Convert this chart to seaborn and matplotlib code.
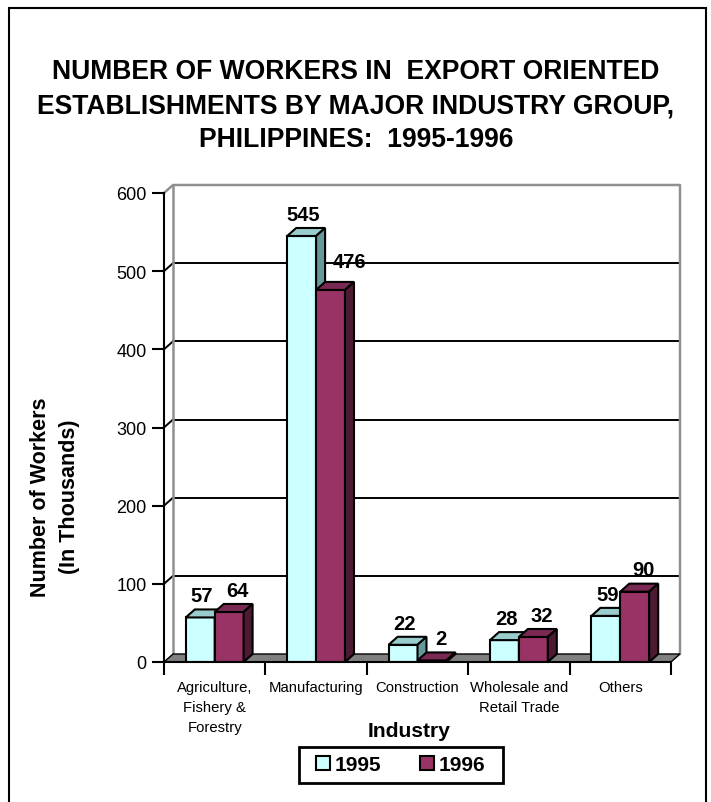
import matplotlib.pyplot as plt
import numpy as np
import pandas as pd
import seaborn as sns
from matplotlib.patches import Patch, Polygon, Rectangle
from matplotlib.ticker import FixedLocator, MultipleLocator

# Datos del grafico
industries = [
    "Agriculture,\nFishery &\nForestry",
    "Manufacturing",
    "Construction",
    "Wholesale and\nRetail Trade",
    "Others",
]
years = ["1995", "1996"]
workers_1995 = [57, 545, 22, 28, 59]
workers_1996 = [64, 476, 2, 32, 90]

# Colores tipo Excel (cara frontal, tapa y lado)
colores = {"1995": "#CCFFFF", "1996": "#993366"}
colores_tapa = {"1995": "#99CCCC", "1996": "#7A2952"}
colores_lado = {"1995": "#669999", "1996": "#4D1A33"}

df = pd.DataFrame(
    {
        "Industry": industries * 2,
        "Year": ["1995"] * len(industries) + ["1996"] * len(industries),
        "Workers": workers_1995 + workers_1996,
    }
)

sns.set_style("white")
plt.rcParams["font.family"] = ["Liberation Sans", "DejaVu Sans"]
for clave in ["text.color", "axes.labelcolor", "xtick.color", "ytick.color"]:
    plt.rcParams[clave] = "black"

W, H = 711, 803
fig = plt.figure(figsize=(W / 100, H / 100), dpi=100)
ax = fig.add_axes([164 / W, 1 - 663 / H, 507 / W, 469 / H])

sns.barplot(
    data=df,
    x="Industry",
    y="Workers",
    hue="Year",
    palette=colores,
    saturation=1,
    width=0.57,
    edgecolor="black",
    linewidth=1.5,
    legend=False,
    ax=ax,
)
ax.set_xlim(-0.5, 4.5)
ax.set_ylim(0, 600)

# Profundidad 3D en unidades de datos (9 px a la derecha, 8 px hacia arriba)
p0 = ax.transData.transform((0, 0))
p1 = ax.transData.transform((1, 100))
dx = 9 / (p1[0] - p0[0])
dy = 8 / ((p1[1] - p0[1]) / 100)

# Pared del fondo con lineas de grilla
xw0, xw1 = -0.5 + dx, 4.5 + dx
for y in range(100, 600, 100):
    ax.plot([xw0, xw1], [y + dy, y + dy], color="black", lw=1.4, zorder=1, clip_on=False)
    ax.plot([-0.5, xw0], [y, y + dy], color="black", lw=1.4, zorder=1, clip_on=False)
ax.plot(
    [-0.5, xw0, xw1, xw1],
    [600, 600 + dy, 600 + dy, dy],
    color="#909090",
    lw=1.8,
    zorder=1,
    clip_on=False,
)
ax.plot([xw0, xw0], [dy, 600 + dy], color="#909090", lw=1.8, zorder=1, clip_on=False)

# Piso
piso = Polygon(
    [(-0.5, 0), (4.5, 0), (4.5 + dx, dy), (-0.5 + dx, dy)],
    facecolor="#808080",
    edgecolor="black",
    lw=1,
    zorder=2,
    clip_on=False,
)
ax.add_patch(piso)

# Caras 3D de las barras y etiquetas
for i, contenedor in enumerate(ax.containers):
    year = years[i]
    for j, barra in enumerate(contenedor):
        barra.set_zorder(3 + i)
        x0 = barra.get_x()
        w = barra.get_width()
        h = barra.get_height()
        tapa = Polygon(
            [(x0, h), (x0 + w, h), (x0 + w + dx, h + dy), (x0 + dx, h + dy)],
            facecolor=colores_tapa[year],
            edgecolor="black",
            lw=1.5,
            zorder=3 + i,
            clip_on=False,
        )
        lado = Polygon(
            [(x0 + w, 0), (x0 + w + dx, dy), (x0 + w + dx, h + dy), (x0 + w, h)],
            facecolor=colores_lado[year],
            edgecolor="black",
            lw=1.5,
            zorder=3 + i,
            clip_on=False,
        )
        ax.add_patch(tapa)
        ax.add_patch(lado)

        label_x = x0 + w / 2 + dx / 2
        ha = "center"
        desplazamiento = (-2 + 5 * i, 3)
        if i == 1:
            vecino = ax.containers[0][j]
            if vecino.get_height() > h + dy + 40:
                # la barra vecina tapa la etiqueta: correrla a la derecha
                label_x = x0 + dx + 0.08
                ha = "left"
                desplazamiento = (0, 8)
        ax.annotate(
            f"{h:.0f}",
            (label_x, h + dy),
            xytext=desplazamiento,
            textcoords="offset points",
            ha=ha,
            va="bottom",
            fontsize=14.5,
            fontweight="bold",
            zorder=8,
            annotation_clip=False,
        )

# Ejes
sns.despine(ax=ax)
for lado_eje in ["left", "bottom"]:
    ax.spines[lado_eje].set_color("black")
    ax.spines[lado_eje].set_linewidth(1.5)
    ax.spines[lado_eje].set_zorder(6)

ax.yaxis.set_major_locator(MultipleLocator(100))
ax.tick_params(
    axis="y", direction="out", length=9, width=1.5, color="black", labelsize=13, pad=3.6, left=True
)
ax.xaxis.set_minor_locator(FixedLocator(np.arange(-0.5, 5, 1)))
ax.tick_params(axis="x", which="major", length=0, labelsize=10.7, pad=13)
ax.tick_params(
    axis="x", which="minor", direction="out", length=9, width=1.5, color="black", bottom=True
)
for lbl in ax.get_xticklabels():
    lbl.set_multialignment("center")
    lbl.set_linespacing(1.55)

ax.set_xlabel("Industry", fontsize=15.2, fontweight="bold")
ax.xaxis.set_label_coords((409 - 164) / 507, (663 - 722) / 469)
ax.set_ylabel("")

fig.text(
    55 / W,
    1 - 497 / H,
    "Number of Workers\n(In Thousands)",
    rotation=90,
    ha="center",
    va="center",
    multialignment="center",
    fontsize=15.5,
    fontweight="bold",
    linespacing=1.45,
)

fig.text(
    356 / W,
    1 - 106 / H,
    "NUMBER OF WORKERS IN  EXPORT ORIENTED\nESTABLISHMENTS BY MAJOR INDUSTRY GROUP,\nPHILIPPINES:  1995-1996",
    ha="center",
    va="center",
    fontsize=19.1,
    fontweight="bold",
    linespacing=1.42,
)

# Leyenda con marco propio
handles = [Patch(facecolor=colores[y], edgecolor="black", lw=1.5, label=y) for y in years]
fig.legend(
    handles=handles,
    loc="center",
    bbox_to_anchor=(401 / W, 1 - 766 / H),
    ncol=2,
    frameon=False,
    prop={"size": 15, "weight": "bold"},
    handlelength=0.65,
    handleheight=0.65,
    handletextpad=0.25,
    columnspacing=1.85,
)
fig.patches.append(
    Rectangle(
        (299 / W, 1 - 784 / H),
        (503 - 299) / W,
        36 / H,
        transform=fig.transFigure,
        fill=False,
        edgecolor="black",
        lw=2,
    )
)

# Marco exterior
fig.patches.append(
    Rectangle(
        (9 / W, -0.02),
        (706 - 9) / W,
        1.02 - 9 / H,
        transform=fig.transFigure,
        fill=False,
        edgecolor="black",
        lw=1.5,
    )
)

fig.savefig("out.png", dpi=100)
